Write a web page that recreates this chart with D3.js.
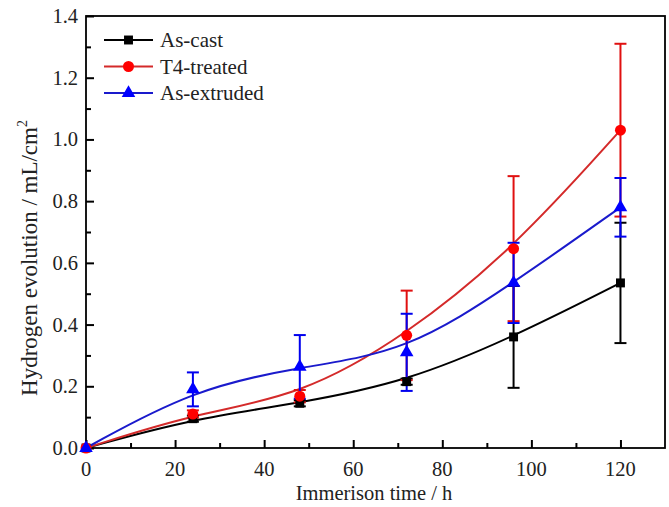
<!DOCTYPE html>
<html><head><meta charset="utf-8">
<script src="https://cdn.jsdelivr.net/npm/d3@7"></script>
<style>body{margin:0;background:#fff}svg{display:block}</style>
</head><body>
<script>
const times = [0, 24, 48, 72, 96, 120];
const seriesNames = ["As-cast", "T4-treated", "As-extruded"];
const asCast = [0, 0.095, 0.145, 0.215, 0.36, 0.535];
const asCastErr = [0, 0.01, 0.01, 0.01, 0.165, 0.195];
const t4 = [0, 0.11, 0.168, 0.365, 0.646, 1.03];
const t4Err = [0, 0.012, 0.02, 0.145, 0.235, 0.28];
const asExt = [0, 0.19, 0.263, 0.31, 0.535, 0.78];
const asExtErr = [0, 0.055, 0.103, 0.125, 0.13, 0.095];
const xTicks = [0, 20, 40, 60, 80, 100, 120];
const yTicks = [0.0, 0.2, 0.4, 0.6, 0.8, 1.0, 1.2, 1.4];

const W = 669, H = 507;
const L = 86, R = 665, T = 16, B = 448;
const font = "Liberation Serif, Times New Roman, serif";
const svg = d3.select("body").append("svg").attr("width", W).attr("height", H)
  .style("font-family", font);
const x = d3.scaleLinear().domain([0, 130]).range([L, R]);
const y = d3.scaleLinear().domain([0, 1.4]).range([B, T]);

const series = [
  {name: seriesNames[0], v: asCast, e: asCastErr, line: "#000000", mk: "#000000", eb: "#000000", sym: d3.symbolSquare, size: 80},
  {name: seriesNames[1], v: t4, e: t4Err, line: "#d42a2a", mk: "#ff0000", eb: "#e01010", sym: d3.symbolCircle, size: 95},
  {name: seriesNames[2], v: asExt, e: asExtErr, line: "#1a1acc", mk: "#0000ff", eb: "#0000ee", sym: d3.symbolTriangle, size: 80}
];

// axes: inward ticks
const minorX = d3.range(10, 130, 20);
const minorY = d3.range(0.1, 1.4, 0.2);
const xAxis = svg.append("g").attr("transform", `translate(0,${B})`)
  .call(d3.axisTop(x).tickValues(xTicks).tickSize(8).tickFormat(""));
const xMinor = svg.append("g").attr("transform", `translate(0,${B})`)
  .call(d3.axisTop(x).tickValues(minorX).tickSize(5).tickFormat(""));
const yAxis = svg.append("g").attr("transform", `translate(${L},0)`)
  .call(d3.axisRight(y).tickValues(yTicks).tickSize(8).tickFormat(""));
const yMinor = svg.append("g").attr("transform", `translate(${L},0)`)
  .call(d3.axisRight(y).tickValues(minorY).tickSize(5).tickFormat(""));
[xAxis, xMinor, yAxis, yMinor].forEach(g => {
  g.select(".domain").remove();
  g.selectAll("line").attr("stroke", "#000").attr("stroke-width", 2);
});

// tick labels
svg.append("g").selectAll("text").data(xTicks).join("text")
  .attr("x", d => x(d)).attr("y", 476).attr("text-anchor", "middle")
  .style("font-family", font).attr("font-size", 20.5).attr("fill", "#222").text(d => d);
svg.append("g").selectAll("text").data(yTicks).join("text")
  .attr("x", 78).attr("y", d => y(d) + 7).attr("text-anchor", "end")
  .style("font-family", font).attr("font-size", 20.5).attr("fill", "#222").text(d => d.toFixed(1));

// frame
svg.append("rect").attr("x", L).attr("y", T).attr("width", R - L).attr("height", B - T)
  .attr("fill", "none").attr("stroke", "#000").attr("stroke-width", 1.8);

// titles
svg.append("text").attr("x", 374).attr("y", 500).attr("text-anchor", "middle")
  .style("font-family", font).attr("font-size", 20.5).attr("fill", "#222").text("Immerison time / h");
const yt = svg.append("text").attr("transform", "translate(37,258) rotate(-90)").attr("text-anchor", "middle")
  .style("font-family", font).attr("font-size", 23).attr("fill", "#222");
yt.append("tspan").text("Hydrogen evolution / mL/cm");
yt.append("tspan").attr("font-size", 14).attr("dy", -10).text("2");

const lineGen = d3.line().x((d, i) => x(times[i])).y(d => y(d)).curve(d3.curveBasis);

series.forEach(s => {
  svg.append("path").datum(s.v).attr("d", lineGen).attr("fill", "none")
    .attr("stroke", s.line).attr("stroke-width", 2);
});
series.forEach(s => {
  const g = svg.append("g");
  s.v.forEach((v, i) => {
    const e = s.e[i];
    if (e <= 0) return;
    const cx = x(times[i]);
    g.append("line").attr("x1", cx).attr("x2", cx).attr("y1", y(v - e)).attr("y2", y(v + e))
      .attr("stroke", s.eb).attr("stroke-width", 2);
    [v - e, v + e].forEach(yy => g.append("line").attr("x1", cx - 6).attr("x2", cx + 6)
      .attr("y1", y(yy)).attr("y2", y(yy)).attr("stroke", s.eb).attr("stroke-width", 2));
  });
});
series.forEach(s => {
  svg.append("g").selectAll("path").data(s.v).join("path")
    .attr("transform", (d, i) => `translate(${x(times[i])},${y(d)})`)
    .attr("d", d3.symbol().type(s.sym).size(s.size)).attr("fill", s.mk);
});

// legend
const leg = svg.append("g");
series.forEach((s, i) => {
  const ly = 40 + i * 26.5;
  leg.append("line").attr("x1", 104).attr("x2", 153).attr("y1", ly).attr("y2", ly)
    .attr("stroke", s.line).attr("stroke-width", 2);
  leg.append("path").attr("transform", `translate(128.5,${ly})`)
    .attr("d", d3.symbol().type(s.sym).size(s.size)).attr("fill", s.mk);
  leg.append("text").attr("x", 160).attr("y", ly + 7).style("font-family", font)
    .attr("font-size", 21).attr("fill", "#222").text(s.name);
});
</script>
</body></html>
